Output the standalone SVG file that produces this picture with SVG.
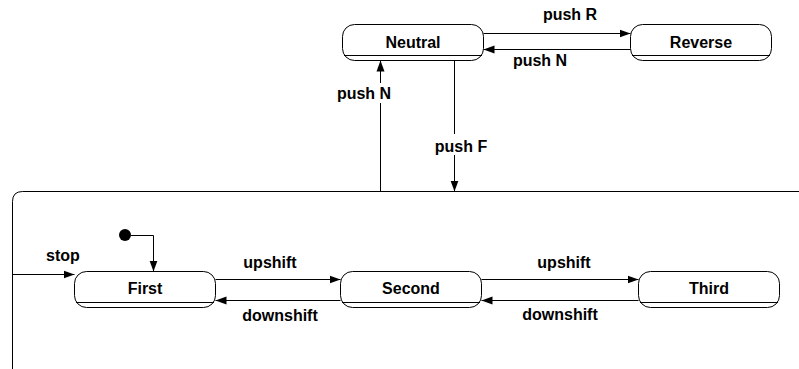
<svg xmlns="http://www.w3.org/2000/svg" width="799" height="369" viewBox="0 0 799 369">
<style>
.box{fill:#fff;stroke:#000;stroke-width:1}
.div{stroke:#000;stroke-width:1}
.ln{fill:none;stroke:#000;stroke-width:1}
.t{font-family:"Liberation Sans",Arial,sans-serif;font-weight:bold;font-size:16px;fill:#000;text-anchor:middle}
</style>
<defs>
<marker id="ah" markerUnits="userSpaceOnUse" markerWidth="12" markerHeight="10" refX="11" refY="4.5" orient="auto">
<path d="M0,0.5 L11,4.5 L0,8.5 Z" fill="#000"/>
</marker>
</defs>
<rect width="799" height="369" fill="#fff"/>
<g id="composite">
<path class="ln" d="M12.5,369 L12.5,201.5 Q12.5,191.5 22.5,191.5 L799,191.5"/>
</g>
<g id="Neutral">
<rect class="box" x="342.5" y="24.5" width="141" height="36" rx="12"/>
<line class="div" x1="344" y1="55.5" x2="482" y2="55.5"/>
<text class="t" x="413" y="48">Neutral</text>
</g>
<g id="Reverse">
<rect class="box" x="630.5" y="24.5" width="141" height="36" rx="12"/>
<line class="div" x1="632" y1="55.5" x2="770" y2="55.5"/>
<text class="t" x="701" y="48">Reverse</text>
</g>
<g id="First">
<rect class="box" x="74.5" y="271.5" width="141" height="36" rx="12"/>
<line class="div" x1="76" y1="302.5" x2="214" y2="302.5"/>
<text class="t" x="145" y="294">First</text>
</g>
<g id="Second">
<rect class="box" x="340.5" y="271.5" width="141" height="36" rx="12"/>
<line class="div" x1="342" y1="302.5" x2="480" y2="302.5"/>
<text class="t" x="411" y="294">Second</text>
</g>
<g id="Third">
<rect class="box" x="638.5" y="271.5" width="141" height="36" rx="12"/>
<line class="div" x1="640" y1="302.5" x2="778" y2="302.5"/>
<text class="t" x="709" y="294">Third</text>
</g>
<g id="initial">
<circle cx="125" cy="235" r="6" fill="#000"/>
</g>
<g id="connectors">
<line class="ln" x1="483.5" y1="33.5" x2="630.5" y2="33.5" marker-end="url(#ah)"/>
<line class="ln" x1="630.5" y1="49.5" x2="483.5" y2="49.5" marker-end="url(#ah)"/>
<line class="ln" x1="380.5" y1="103" x2="380.5" y2="191"/>
<line class="ln" x1="380.5" y1="83" x2="380.5" y2="60.5" marker-end="url(#ah)"/>
<line class="ln" x1="454.5" y1="60.5" x2="454.5" y2="134"/>
<line class="ln" x1="454.5" y1="155" x2="454.5" y2="191.5" marker-end="url(#ah)"/>
<path class="ln" d="M131,235.5 L153.5,235.5 L153.5,271.5" marker-end="url(#ah)"/>
<line class="ln" x1="12.5" y1="274.5" x2="74.5" y2="274.5" marker-end="url(#ah)"/>
<line class="ln" x1="215.5" y1="279.5" x2="340.5" y2="279.5" marker-end="url(#ah)"/>
<line class="ln" x1="340.5" y1="300.5" x2="215.5" y2="300.5" marker-end="url(#ah)"/>
<line class="ln" x1="481.5" y1="279.5" x2="638.5" y2="279.5" marker-end="url(#ah)"/>
<line class="ln" x1="638.5" y1="300.5" x2="481.5" y2="300.5" marker-end="url(#ah)"/>
<text class="t" x="570" y="20">push R</text>
<text class="t" x="540" y="66">push N</text>
<text class="t" x="364" y="99">push N</text>
<text class="t" x="461" y="152">push F</text>
<text class="t" x="63" y="261">stop</text>
<text class="t" x="270" y="268">upshift</text>
<text class="t" x="280" y="321">downshift</text>
<text class="t" x="564" y="268">upshift</text>
<text class="t" x="560" y="320">downshift</text>
</g>
</svg>
